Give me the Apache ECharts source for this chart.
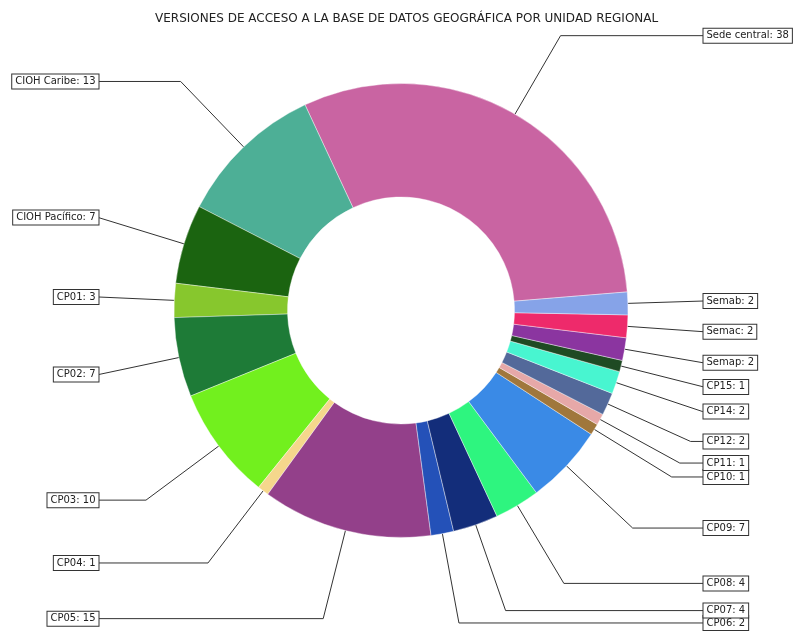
<!DOCTYPE html>
<html><head><meta charset="utf-8">
<script src="https://cdn.jsdelivr.net/npm/echarts@6/dist/echarts.min.js"></script>
<style>html,body{margin:0;padding:0;background:#fff}#c{width:797px;height:632px}</style>
</head><body><div id="c"></div>
<script>
const titleText = 'VERSIONES DE ACCESO A LA BASE DE DATOS GEOGRÁFICA POR UNIDAD REGIONAL';
const categories = ['Sede central','CIOH Caribe','CIOH Pacífico','CP01','CP02','CP03','CP04','CP05','CP06','CP07','CP08','CP09','CP10','CP11','CP12','CP14','CP15','Semap','Semac','Semab'];
const values = [38,13,7,3,7,10,1,15,2,4,4,7,1,1,2,2,1,2,2,2];
const colors = ['#C964A2','#4DAF96','#1B6410','#87C72D','#1E7B37','#72F01E','#F5D78C','#93408A','#2451B8','#132D7A','#2EF57F','#3A8AE6','#A0773C','#E6A8A8','#53699A','#48F5D0','#1F4A23','#8B35A0','#EE2A6B','#86A3E8'];

const CX = 401, CY = 310.5, R = 227, R0 = 113.5, START = 4.7, LINE_END = 302.5;
const total = values.reduce((a, b) => a + b, 0);
let cum = 0;
const data = categories.map((name, i) => {
  const mid = (START + (cum + values[i] / 2) / total * 360) * Math.PI / 180;
  cum += values[i];
  const c = Math.abs(Math.cos(mid));
  const re = Math.min(1.4 * R, LINE_END / Math.max(c, 1e-6));
  return {
    name: name, value: values[i],
    itemStyle: { color: colors[i] },
    labelLine: { length: re - R, length2: Math.max(0.01, LINE_END - re * c) }
  };
});

const chart = echarts.init(document.getElementById('c'), null, { renderer: 'canvas' });
chart.setOption({
  animation: false,
  backgroundColor: '#fff',
  title: {
    text: titleText, left: 150, top: 8,
    textStyle: { fontFamily: 'DejaVu Sans', fontSize: 12, fontWeight: 'normal', color: '#222' }
  },
  series: [{
    type: 'pie',
    center: [CX, CY],
    radius: [R0, R],
    startAngle: START,
    clockwise: false,
    avoidLabelOverlap: false,
    labelLayout: { hideOverlap: false },
    itemStyle: { borderColor: '#fff', borderWidth: 0.4 },
    label: {
      show: true, position: 'outside',
      formatter: '{b}: {c}',
      distanceToLabelLine: 0,
      fontFamily: 'DejaVu Sans', fontSize: 10, color: '#222',
      lineHeight: 11,
      backgroundColor: '#fff', borderColor: '#333', borderWidth: 1,
      padding: [2, 3, 1, 3]
    },
    labelLine: {
      show: true, smooth: false, minTurnAngle: 0,
      lineStyle: { color: '#333', width: 1 }
    },
    emphasis: { disabled: true },
    data: data
  }]
});
</script>
</body></html>
